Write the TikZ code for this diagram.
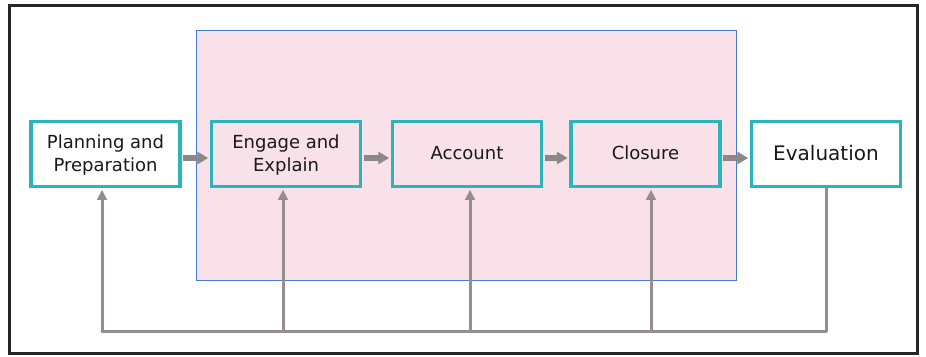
\documentclass[tikz,border=0pt]{standalone}
\usepackage{fontspec}
\setmainfont{DejaVu Sans}
\usetikzlibrary{arrows.meta}
\definecolor{stageline}{RGB}{42,181,187}
\definecolor{phasefill}{RGB}{249,225,234}
\definecolor{phaseline}{RGB}{70,124,214}
\definecolor{flowgray}{RGB}{140,136,136}
\definecolor{loopgray}{RGB}{150,142,142}
\definecolor{inkdark}{RGB}{25,25,25}
\tikzset{
  stagebox/.style={draw=stageline, line width=3.5pt, minimum width=149pt,
    minimum height=65pt, align=center, text=inkdark, inner sep=2pt,
    text depth=2pt, font=\fontsize{18}{23.5}\selectfont},
  outerstage/.style={stagebox, fill=white},
  flowarrow/.style={draw=flowgray, line width=5.5pt,
    -{Triangle[length=11pt,width=12pt]}, shorten <=1.5pt, shorten >=1.5pt},
  looparrow/.style={draw=loopgray, line width=3pt,
    -{Triangle[length=10pt,width=9.5pt]}, shorten >=1.5pt},
  loopline/.style={draw=loopgray, line width=3pt, line cap=round, line join=round}
}
\begin{document}
\begin{tikzpicture}[x=1pt,y=-1pt]
  \useasboundingbox (0,0) rectangle (926,356);
  % outer frame
  \draw[line width=2.5pt, draw=black!85] (9.5,5.5) rectangle (917.5,353.5);
  % shaded phase region
  \draw[fill=phasefill, draw=phaseline, line width=1pt] (196,30) rectangle (736,280);

  % stages
  \node[outerstage] (plan) at (105.5,154) {Planning and\\Preparation};
  \node[stagebox] (engage) at (286,154) {Engage and\\Explain};
  \node[stagebox] (account) at (467,154) {Account};
  \node[stagebox] (closure) at (645.5,154) {Closure};
  \node[outerstage, font=\fontsize{20}{24}\selectfont] (eval) at (826,154) {Evaluation};

  % forward flow, running a little below the box centres
  \draw[flowarrow] ([yshift=-4pt]plan.east) -- ([yshift=-4pt]engage.west);
  \draw[flowarrow] ([yshift=-4pt]engage.east) -- ([yshift=-4pt]account.west);
  \draw[flowarrow] ([yshift=-4pt]account.east) -- ([yshift=-4pt]closure.west);
  \draw[flowarrow] ([yshift=-4pt]closure.east) -- ([yshift=-4pt]eval.west);

  % feedback loop along the bottom
  \coordinate (b1) at (102,331);
  \coordinate (b2) at (283,331);
  \coordinate (b3) at (470,331);
  \coordinate (b4) at (651,331);
  \coordinate (b5) at (826,331);
  \draw[loopline] (eval.south) -- (b5) -- (b1);
  \draw[looparrow] (b1) -- (b1 |- plan.south);
  \draw[looparrow] (b2) -- (b2 |- engage.south);
  \draw[looparrow] (b3) -- (b3 |- account.south);
  \draw[looparrow] (b4) -- (b4 |- closure.south);
\end{tikzpicture}
\end{document}
